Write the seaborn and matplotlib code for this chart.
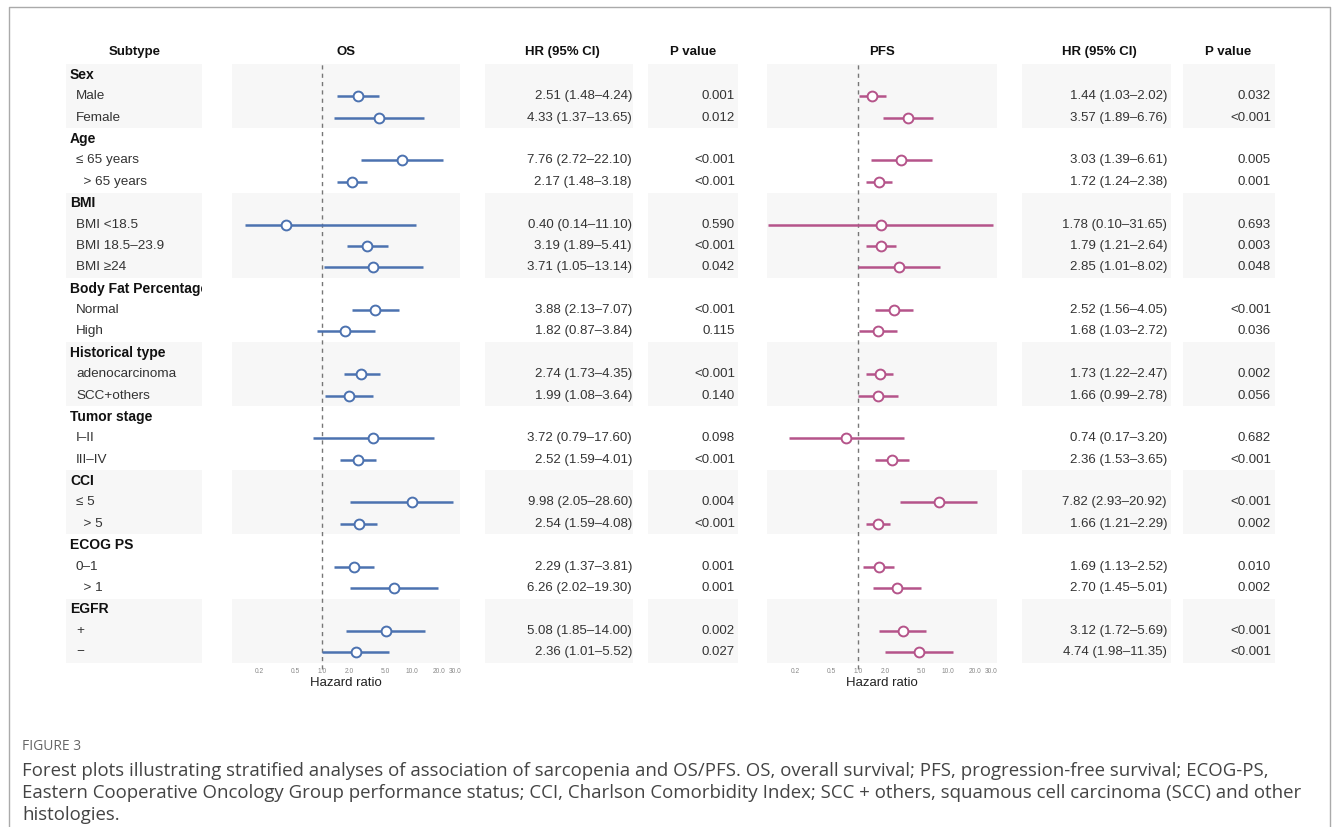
import numpy as np
import pandas as pd
import matplotlib
matplotlib.use("Agg")
import matplotlib.pyplot as plt
import seaborn as sns
from matplotlib.transforms import Bbox, TransformedBbox

# ---- data ----
groups = ["Sex", "Age", "BMI", "Body Fat Percentage", "Historical type",
          "Tumor stage", "CCI", "ECOG PS", "EGFR"]
subgroups = [
    ["Male", "Female"],
    ["≤ 65 years", "  > 65 years"],
    ["BMI <18.5", "BMI 18.5–23.9", "BMI ≥24"],
    ["Normal", "High"],
    ["adenocarcinoma", "SCC+others"],
    ["I–II", "III–IV"],
    ["≤ 5", "  > 5"],
    ["0–1", "  > 1"],
    ["+", "−"],
]

os_hr = [2.51, 4.33, 7.76, 2.17, 0.40, 3.19, 3.71, 3.88, 1.82, 2.74, 1.99,
         3.72, 2.52, 9.98, 2.54, 2.29, 6.26, 5.08, 2.36]
os_lo = [1.48, 1.37, 2.72, 1.48, 0.14, 1.89, 1.05, 2.13, 0.87, 1.73, 1.08,
         0.79, 1.59, 2.05, 1.59, 1.37, 2.02, 1.85, 1.01]
os_hi = [4.24, 13.65, 22.10, 3.18, 11.10, 5.41, 13.14, 7.07, 3.84, 4.35, 3.64,
         17.60, 4.01, 28.60, 4.08, 3.81, 19.30, 14.00, 5.52]
os_p = ["0.001", "0.012", "<0.001", "<0.001", "0.590", "<0.001", "0.042",
        "<0.001", "0.115", "<0.001", "0.140", "0.098", "<0.001", "0.004",
        "<0.001", "0.001", "0.001", "0.002", "0.027"]

pfs_hr = [1.44, 3.57, 3.03, 1.72, 1.78, 1.79, 2.85, 2.52, 1.68, 1.73, 1.66,
          0.74, 2.36, 7.82, 1.66, 1.69, 2.70, 3.12, 4.74]
pfs_lo = [1.03, 1.89, 1.39, 1.24, 0.10, 1.21, 1.01, 1.56, 1.03, 1.22, 0.99,
          0.17, 1.53, 2.93, 1.21, 1.13, 1.45, 1.72, 1.98]
pfs_hi = [2.02, 6.76, 6.61, 2.38, 31.65, 2.64, 8.02, 4.05, 2.72, 2.47, 2.78,
          3.20, 3.65, 20.92, 2.29, 2.52, 5.01, 5.69, 11.35]
pfs_p = ["0.032", "<0.001", "0.005", "0.001", "0.693", "0.003", "0.048",
         "<0.001", "0.036", "0.002", "0.056", "0.682", "<0.001", "<0.001",
         "0.002", "0.010", "0.002", "<0.001", "<0.001"]

ticks = [0.2, 0.5, 1.0, 2.0, 5.0, 10.0, 20.0, 30.0]
tick_labels = ["0.2", "0.5", "1.0", "2.0", "5.0", "10.0", "20.0", "30.0"]

caption_title = "FIGURE 3"
caption_lines = [
    "Forest plots illustrating stratified analyses of association of sarcopenia and OS/PFS. OS, overall survival; PFS, progression-free survival; ECOG-PS,",
    "Eastern Cooperative Oncology Group performance status; CCI, Charlson Comorbidity Index; SCC + others, squamous cell carcinoma (SCC) and other",
    "histologies.",
]

# ---- build row table ----
rows = []
k = 0
for gi, (g, subs) in enumerate(zip(groups, subgroups)):
    rows.append(dict(label=g, header=True, group=gi, i=None))
    for s in subs:
        rows.append(dict(label=s, header=False, group=gi, i=k))
        k += 1
df = pd.DataFrame(rows)
df["row"] = np.arange(len(df))
est = df[~df.header].copy()
idx = est["i"].astype(int).values
est["os_hr"] = np.array(os_hr)[idx]
est["os_lo"] = np.array(os_lo)[idx]
est["os_hi"] = np.array(os_hi)[idx]
est["os_p"] = np.array(os_p)[idx]
est["pfs_hr"] = np.array(pfs_hr)[idx]
est["pfs_lo"] = np.array(pfs_lo)[idx]
est["pfs_hi"] = np.array(pfs_hi)[idx]
est["pfs_p"] = np.array(pfs_p)[idx]

# ---- layout (pixels) ----
W, H = 1333, 827
Y0, DY = 75.0, 21.37          # centre of first row, row spacing
nrows = len(df)
band_cols = [(66, 202), (232, 460), (485, 633), (648, 738),
             (767, 997), (1022, 1171), (1183, 1275)]
BAND = "#f7f7f7"
OS_COL = "#4C72B0"
PFS_COL = "#B5548A"
TXT = "#333333"

sns.set_theme(style="white")
plt.rcParams["font.family"] = ["Liberation Sans", "DejaVu Sans"]

fig = plt.figure(figsize=(W / 100, H / 100), dpi=100)
bg = fig.add_axes([0, 0, 1, 1])
bg.set_xlim(0, W)
bg.set_ylim(H, 0)
bg.axis("off")

def ypix(r):
    return Y0 + r * DY

# frame
bg.plot([9, 9, 1330, 1330], [H, 7, 7, H], color="#aaaaaa", lw=1.0)

# shaded group bands
for gi in range(0, len(groups), 2):
    rr = df.loc[df.group == gi, "row"]
    top = ypix(rr.min()) - DY / 2
    hgt = len(rr) * DY
    for x0, x1 in band_cols:
        bg.add_patch(plt.Rectangle((x0, top), x1 - x0, hgt, color=BAND, lw=0, zorder=0))

# column headers
hdr_y = 52
for x, s in [(135, "Subtype"), (346, "OS"), (562, "HR (95% CI)"), (693, "P value"),
             (882, "PFS"), (1099, "HR (95% CI)"), (1228, "P value")]:
    bg.text(x, hdr_y, s, ha="center", va="center", fontsize=9.5, fontweight="bold", color="#111111")

# subtype column, clipped at the column edge
clip = TransformedBbox(Bbox([[66, 0], [202, H]]), bg.transData)
for _, r in df.iterrows():
    if r.header:
        t = bg.text(70, ypix(r.row), r.label, ha="left", va="center", fontsize=10,
                    fontweight="bold", color="#111111", clip_on=True)
    else:
        t = bg.text(76, ypix(r.row), r.label, ha="left", va="center", fontsize=9.7,
                    color=TXT, clip_on=True)
    t.set_clip_box(clip)

# HR / p-value columns
for _, r in est.iterrows():
    y = ypix(r.row)
    bg.text(632, y, f"{r.os_hr:.2f} ({r.os_lo:.2f}–{r.os_hi:.2f})", ha="right", va="center", fontsize=9.5, color=TXT)
    bg.text(735, y, r.os_p, ha="right", va="center", fontsize=9.5, color=TXT)
    bg.text(1167, y, f"{r.pfs_hr:.2f} ({r.pfs_lo:.2f}–{r.pfs_hi:.2f})", ha="right", va="center", fontsize=9.5, color=TXT)
    bg.text(1271, y, r.pfs_p, ha="right", va="center", fontsize=9.5, color=TXT)

# ---- forest panels ----
ax_top = ypix(0) - DY / 2
ax_h = nrows * DY

def forest(x0, x1, hr, lo, hi, color):
    ax = fig.add_axes([x0 / W, 1 - (ax_top + ax_h) / H, (x1 - x0) / W, ax_h / H])
    ax.set_facecolor("none")
    ax.set_xscale("log")
    ax.hlines(est["row"], est[lo], est[hi], color=color, lw=1.8, zorder=2)
    sns.scatterplot(data=est, x=hr, y="row", ax=ax, marker="o", s=50, color="white",
                    edgecolor=color, linewidth=1.4, zorder=3, legend=False)
    ax.axvline(1.0, color="#777777", lw=1.0, ls=(0, (3, 3)), zorder=1, ymin=-0.01, ymax=1.0,
               clip_on=False)
    ax.set_xlim(0.1, 34)
    ax.set_ylim(nrows - 0.5, -0.5)
    ax.set_yticks([])
    ax.set_ylabel("")
    ax.set_xticks(ticks)
    ax.set_xticklabels(tick_labels)
    ax.minorticks_off()
    ax.tick_params(axis="x", length=0, labelsize=4.8, labelcolor="#888888", pad=4)
    ax.set_xlabel("Hazard ratio", fontsize=9.5, color="#222222", labelpad=1)
    sns.despine(ax=ax, left=True, bottom=True)
    return ax

forest(232, 460, "os_hr", "os_lo", "os_hi", OS_COL)
forest(768, 996, "pfs_hr", "pfs_lo", "pfs_hi", PFS_COL)

# ---- caption ----
cap_font = ["Open Sans", "DejaVu Sans"]
bg.text(22, 746, caption_title, ha="left", va="center", fontsize=10, color="#666666", family=cap_font)
for j, line in enumerate(caption_lines):
    bg.text(22, 771 + j * 22, line, ha="left", va="center", fontsize=13.4, color="#444444", family=cap_font)

fig.savefig("out.png", dpi=100)
